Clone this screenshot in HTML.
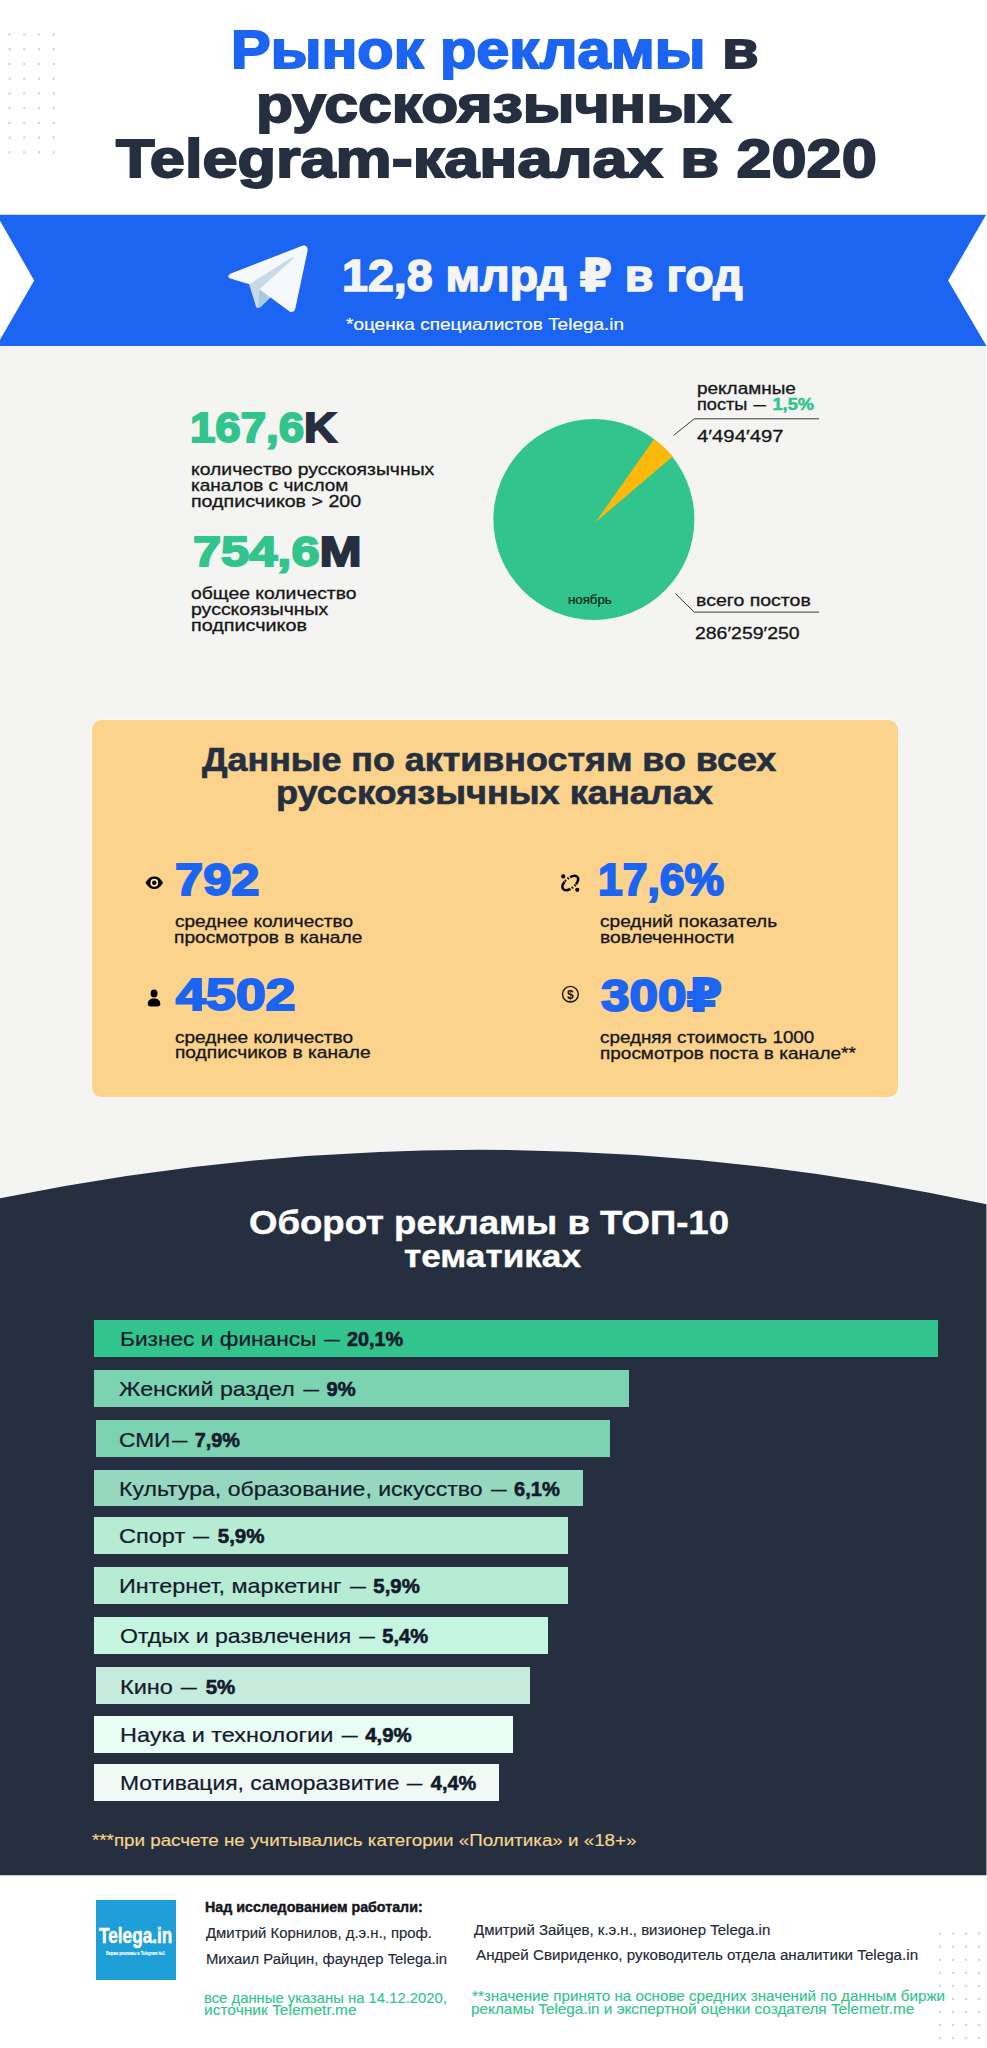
<!DOCTYPE html>
<html lang="ru"><head><meta charset="utf-8"><title>Рынок рекламы в русскоязычных Telegram-каналах в 2020</title>
<style>
html,body{margin:0;padding:0}
body{width:987px;height:2048px;position:relative;overflow:hidden;background:#fff;font-family:"Liberation Sans", "DejaVu Sans", sans-serif;}
.t{position:absolute;white-space:nowrap;line-height:1;transform-origin:0 0;display:block;}
.t b{font-weight:700;-webkit-text-stroke:0.03em currentColor}
.bl b{display:inline-block;transform:scaleX(.87);transform-origin:0 50%}
.d{display:inline-block;transform:scaleX(.68);margin:0 -.09em}
.abs{position:absolute}
.bar{position:absolute}
</style></head>
<body>
<div class="abs" style="left:0;top:346px;width:986px;height:870px;background:#f4f4f2"></div>
<svg class="abs" style="left:0;top:0" width="987" height="2048" viewBox="0 0 987 2048"><rect x="8.5" y="33.4" width="2.2" height="2.2" fill="#d2d3e0"/><rect x="23.2" y="33.4" width="2.2" height="2.2" fill="#d2d3e0"/><rect x="37.9" y="33.4" width="2.2" height="2.2" fill="#d2d3e0"/><rect x="52.6" y="33.4" width="2.2" height="2.2" fill="#d2d3e0"/><rect x="8.5" y="48.1" width="2.2" height="2.2" fill="#d2d3e0"/><rect x="23.2" y="48.1" width="2.2" height="2.2" fill="#d2d3e0"/><rect x="37.9" y="48.1" width="2.2" height="2.2" fill="#d2d3e0"/><rect x="52.6" y="48.1" width="2.2" height="2.2" fill="#d2d3e0"/><rect x="8.5" y="62.9" width="2.2" height="2.2" fill="#d2d3e0"/><rect x="23.2" y="62.9" width="2.2" height="2.2" fill="#d2d3e0"/><rect x="37.9" y="62.9" width="2.2" height="2.2" fill="#d2d3e0"/><rect x="52.6" y="62.9" width="2.2" height="2.2" fill="#d2d3e0"/><rect x="8.5" y="77.6" width="2.2" height="2.2" fill="#d2d3e0"/><rect x="23.2" y="77.6" width="2.2" height="2.2" fill="#d2d3e0"/><rect x="37.9" y="77.6" width="2.2" height="2.2" fill="#d2d3e0"/><rect x="52.6" y="77.6" width="2.2" height="2.2" fill="#d2d3e0"/><rect x="8.5" y="92.3" width="2.2" height="2.2" fill="#d2d3e0"/><rect x="23.2" y="92.3" width="2.2" height="2.2" fill="#d2d3e0"/><rect x="37.9" y="92.3" width="2.2" height="2.2" fill="#d2d3e0"/><rect x="52.6" y="92.3" width="2.2" height="2.2" fill="#d2d3e0"/><rect x="8.5" y="107.1" width="2.2" height="2.2" fill="#d2d3e0"/><rect x="23.2" y="107.1" width="2.2" height="2.2" fill="#d2d3e0"/><rect x="37.9" y="107.1" width="2.2" height="2.2" fill="#d2d3e0"/><rect x="52.6" y="107.1" width="2.2" height="2.2" fill="#d2d3e0"/><rect x="8.5" y="121.8" width="2.2" height="2.2" fill="#d2d3e0"/><rect x="23.2" y="121.8" width="2.2" height="2.2" fill="#d2d3e0"/><rect x="37.9" y="121.8" width="2.2" height="2.2" fill="#d2d3e0"/><rect x="52.6" y="121.8" width="2.2" height="2.2" fill="#d2d3e0"/><rect x="8.5" y="136.5" width="2.2" height="2.2" fill="#d2d3e0"/><rect x="23.2" y="136.5" width="2.2" height="2.2" fill="#d2d3e0"/><rect x="37.9" y="136.5" width="2.2" height="2.2" fill="#d2d3e0"/><rect x="52.6" y="136.5" width="2.2" height="2.2" fill="#d2d3e0"/><rect x="8.5" y="151.2" width="2.2" height="2.2" fill="#d2d3e0"/><rect x="23.2" y="151.2" width="2.2" height="2.2" fill="#d2d3e0"/><rect x="37.9" y="151.2" width="2.2" height="2.2" fill="#d2d3e0"/><rect x="52.6" y="151.2" width="2.2" height="2.2" fill="#d2d3e0"/><rect x="939.0" y="1932.6" width="2.2" height="2.2" fill="#d6d6e3"/><rect x="952.0" y="1932.6" width="2.2" height="2.2" fill="#d6d6e3"/><rect x="965.0" y="1932.6" width="2.2" height="2.2" fill="#d6d6e3"/><rect x="978.0" y="1932.6" width="2.2" height="2.2" fill="#d6d6e3"/><rect x="939.0" y="1945.6" width="2.2" height="2.2" fill="#d6d6e3"/><rect x="952.0" y="1945.6" width="2.2" height="2.2" fill="#d6d6e3"/><rect x="965.0" y="1945.6" width="2.2" height="2.2" fill="#d6d6e3"/><rect x="978.0" y="1945.6" width="2.2" height="2.2" fill="#d6d6e3"/><rect x="939.0" y="1958.7" width="2.2" height="2.2" fill="#d6d6e3"/><rect x="952.0" y="1958.7" width="2.2" height="2.2" fill="#d6d6e3"/><rect x="965.0" y="1958.7" width="2.2" height="2.2" fill="#d6d6e3"/><rect x="978.0" y="1958.7" width="2.2" height="2.2" fill="#d6d6e3"/><rect x="939.0" y="1971.8" width="2.2" height="2.2" fill="#d6d6e3"/><rect x="952.0" y="1971.8" width="2.2" height="2.2" fill="#d6d6e3"/><rect x="965.0" y="1971.8" width="2.2" height="2.2" fill="#d6d6e3"/><rect x="978.0" y="1971.8" width="2.2" height="2.2" fill="#d6d6e3"/><rect x="939.0" y="1984.8" width="2.2" height="2.2" fill="#d6d6e3"/><rect x="952.0" y="1984.8" width="2.2" height="2.2" fill="#d6d6e3"/><rect x="965.0" y="1984.8" width="2.2" height="2.2" fill="#d6d6e3"/><rect x="978.0" y="1984.8" width="2.2" height="2.2" fill="#d6d6e3"/><rect x="939.0" y="1997.8" width="2.2" height="2.2" fill="#d6d6e3"/><rect x="952.0" y="1997.8" width="2.2" height="2.2" fill="#d6d6e3"/><rect x="965.0" y="1997.8" width="2.2" height="2.2" fill="#d6d6e3"/><rect x="978.0" y="1997.8" width="2.2" height="2.2" fill="#d6d6e3"/><rect x="939.0" y="2010.9" width="2.2" height="2.2" fill="#d6d6e3"/><rect x="952.0" y="2010.9" width="2.2" height="2.2" fill="#d6d6e3"/><rect x="965.0" y="2010.9" width="2.2" height="2.2" fill="#d6d6e3"/><rect x="978.0" y="2010.9" width="2.2" height="2.2" fill="#d6d6e3"/><rect x="939.0" y="2023.9" width="2.2" height="2.2" fill="#d6d6e3"/><rect x="952.0" y="2023.9" width="2.2" height="2.2" fill="#d6d6e3"/><rect x="965.0" y="2023.9" width="2.2" height="2.2" fill="#d6d6e3"/><rect x="978.0" y="2023.9" width="2.2" height="2.2" fill="#d6d6e3"/><rect x="939.0" y="2037.0" width="2.2" height="2.2" fill="#d6d6e3"/><rect x="952.0" y="2037.0" width="2.2" height="2.2" fill="#d6d6e3"/><rect x="965.0" y="2037.0" width="2.2" height="2.2" fill="#d6d6e3"/><rect x="978.0" y="2037.0" width="2.2" height="2.2" fill="#d6d6e3"/><polygon points="-3.5,214.7 986.1,214.7 948.1,280.5 986.5,345.9 -3.5,345.9 34.2,280.5" fill="#1c64f2"/><g transform="translate(198.6,201.5) scale(0.608)"><path fill="#c8daea" d="M98 175c-3.8876 0-3.227-1.4679-4.5678-5.1695L82 132.2059 170 80"/><path fill="#a9c9dd" d="M98 175c3 0 4.3255-1.372 6-3l16-15.558-19.958-12.035"/><path fill="#f6f9fc" d="M100.04 144.41l48.36 35.729c5.5185 3.0449 9.5014 1.4684 10.876-5.1235l19.685-92.763c2.0154-8.0802-3.0801-11.745-8.3594-9.3482l-115.59 44.571c-7.8901 3.1647-7.8441 7.5666-1.4382 9.528l29.663 9.2583 68.673-43.325c3.2419-1.9659 6.2173-0.90899 3.7752 1.2584"/></g><ellipse cx="593.9" cy="519.5" rx="100.5" ry="100.5" fill="#31c48d"/><path d="M595.5,522.3 L654.1,438.9 A100.5,100.5 0 0 1 672.8,456.4 Z" fill="#fdb90b"/><polyline points="673.6,435.4 694.2,418.8 819,418.8" fill="none" stroke="#3a3a3a" stroke-width="1"/><polyline points="675.6,593.8 694.2,612.1 819,612.1" fill="none" stroke="#3a3a3a" stroke-width="1"/><path d="M0,1198.3 Q494,1098.2 986.45,1204.3 L986.45,1875.2 L0,1875.2 Z" fill="#252f3f"/></svg>
<div class="abs" style="left:92.1px;top:719.9px;width:805.8px;height:377.6px;border-radius:9.5px;background:#fbd38d;box-shadow:0 0 3px rgba(255,255,255,.9)"></div>
<div class="bar" style="left:93.8px;top:1320.2px;width:844.4px;height:37.1px;background:#31c48d"></div>
<div class="bar" style="left:93.8px;top:1370.2px;width:535.4px;height:37.0px;background:#7bd3b1"></div>
<div class="bar" style="left:95.8px;top:1420.4px;width:514.6px;height:36.5px;background:#7bd3b1"></div>
<div class="bar" style="left:93.8px;top:1470.1px;width:489.3px;height:36.0px;background:#96d8bf"></div>
<div class="bar" style="left:93.8px;top:1517.1px;width:474.2px;height:37.0px;background:#b5ecd3"></div>
<div class="bar" style="left:93.8px;top:1567.2px;width:474.2px;height:36.9px;background:#b5ecd3"></div>
<div class="bar" style="left:93.8px;top:1616.9px;width:454.5px;height:36.8px;background:#c5f5e0"></div>
<div class="bar" style="left:95.8px;top:1666.9px;width:434.4px;height:36.7px;background:#c5ebdc"></div>
<div class="bar" style="left:93.8px;top:1716.2px;width:419.5px;height:36.8px;background:#e8fdf3"></div>
<div class="bar" style="left:93.8px;top:1764.4px;width:405.2px;height:36.9px;background:#f0f9f5"></div>
<div class="abs" style="left:96px;top:1900px;width:80px;height:80px;background:#1e9fd8"></div>
<svg class="abs" style="left:0;top:0" width="987" height="2048" viewBox="0 0 987 2048"><g transform="translate(154.3,882.8)"><path d="M-8.8,0 C-5.5,-5.4 -2.5,-6.2 0,-6.2 C2.5,-6.2 5.5,-5.4 8.8,0 C5.5,5.4 2.5,6.2 0,6.2 C-2.5,6.2 -5.5,5.4 -8.8,0 Z" fill="#000"/><circle r="3.1" fill="none" stroke="#fde9a0" stroke-width="1.7"/></g><g fill="#000"><ellipse cx="154.05" cy="993.5" rx="3.45" ry="4.1"/><path d="M147.8,1004.8 C147.8,1000.2 150,998.6 154.05,998.6 C158.1,998.6 160.3,1000.2 160.3,1004.8 C160.3,1006.2 158,1006.6 154.05,1006.6 C150.1,1006.6 147.8,1006.2 147.8,1004.8 Z"/></g><g transform="translate(570.3,883) rotate(-40)" fill="none" stroke="#000" stroke-width="2.5" stroke-linecap="butt"><path d="M3.6,-4.6 A9.4,5 0 0 1 3.6,4.6"/><path d="M-3.6,4.6 A9.4,5 0 0 1 -3.6,-4.6"/><path d="M-2.9,-4.9 L-1.4,-4.9 M0.6,-4.9 L2.1,-4.9 M-2.1,4.9 L-0.6,4.9 M1.4,4.9 L2.9,4.9" stroke-width="2.3"/></g><circle cx="563.2" cy="876.4" r="2.1" fill="#000"/><circle cx="577.3" cy="889.8" r="2.1" fill="#000"/><circle cx="570.4" cy="994.2" r="7.85" fill="none" stroke="#1a1208" stroke-width="1.4"/><text x="570.4" y="998.6" text-anchor="middle" font-family='"Liberation Sans", "DejaVu Sans", sans-serif' font-size="12" font-weight="700" fill="#1a1208">$</text></svg>
<span class="t" style="left:230.9px;top:23.20px;font-size:53.92px;font-weight:700;color:#252f3f;-webkit-text-stroke:0.035em currentColor;transform:scaleX(1.1030)"><span style="color:#1c64f2">Рынок рекламы</span> в</span>
<span class="t" style="left:256.1px;top:79.14px;font-size:51.83px;font-weight:700;color:#252f3f;-webkit-text-stroke:0.035em currentColor;transform:scaleX(1.1680)">русскоязычных</span>
<span class="t" style="left:115.9px;top:130.57px;font-size:54.06px;font-weight:700;color:#252f3f;-webkit-text-stroke:0.035em currentColor;transform:scaleX(1.1667)">Telegram-каналах в 2020</span>
<span class="t" style="left:342.1px;top:253.97px;font-size:43.77px;font-weight:700;color:#f4f4f2;-webkit-text-stroke:0.035em currentColor;transform:scaleX(1.0643)">12,8 млрд ₽ в год</span>
<span class="t" style="left:346.1px;top:315.93px;font-size:16.5px;font-weight:400;color:#ffffff;-webkit-text-stroke:0.01em currentColor;transform:scaleX(1.1505)">*оценка специалистов Telega.in</span>
<span class="t" style="left:190.2px;top:405.83px;font-size:42.95px;font-weight:700;color:#252f3f;-webkit-text-stroke:0.045em currentColor;transform:scaleX(1.0619)"><span style="color:#31c48d">167,6</span>K</span>
<span class="t" style="left:190.9px;top:461.00px;font-size:17px;font-weight:400;color:#161616;-webkit-text-stroke:0.018em currentColor;transform:scaleX(1.1388)">количество русскоязычных</span>
<span class="t" style="left:190.9px;top:477.40px;font-size:17px;font-weight:400;color:#161616;-webkit-text-stroke:0.018em currentColor;transform:scaleX(1.1178)">каналов с числом</span>
<span class="t" style="left:190.8px;top:492.80px;font-size:17px;font-weight:400;color:#161616;-webkit-text-stroke:0.018em currentColor;transform:scaleX(1.1541)">подписчиков &gt; 200</span>
<span class="t" style="left:192.8px;top:530.85px;font-size:42.41px;font-weight:700;color:#252f3f;-webkit-text-stroke:0.045em currentColor;transform:scaleX(1.1921)"><span style="color:#31c48d">754,6</span>M</span>
<span class="t" style="left:191.2px;top:584.50px;font-size:17px;font-weight:400;color:#161616;-webkit-text-stroke:0.018em currentColor;transform:scaleX(1.1363)">общее количество</span>
<span class="t" style="left:190.9px;top:601.00px;font-size:17px;font-weight:400;color:#161616;-webkit-text-stroke:0.018em currentColor;transform:scaleX(1.1461)">русскоязычных</span>
<span class="t" style="left:190.8px;top:617.30px;font-size:17px;font-weight:400;color:#161616;-webkit-text-stroke:0.018em currentColor;transform:scaleX(1.1633)">подписчиков</span>
<span class="t" style="left:696.8px;top:379.60px;font-size:17px;font-weight:400;color:#161616;-webkit-text-stroke:0.018em currentColor;transform:scaleX(1.1149)">рекламные</span>
<span class="t" style="left:696.8px;top:395.60px;font-size:17px;font-weight:400;color:#161616;-webkit-text-stroke:0.018em currentColor;transform:scaleX(1.0694)">посты <span class="d">—</span> <b style="color:#31c48d">1,5%</b></span>
<span class="t" style="left:697.1px;top:428.30px;font-size:17px;font-weight:400;color:#161616;-webkit-text-stroke:0.018em currentColor;transform:scaleX(1.1930)">4′494′497</span>
<span class="t" style="left:696.1px;top:592.40px;font-size:17px;font-weight:400;color:#161616;-webkit-text-stroke:0.018em currentColor;transform:scaleX(1.1471)">всего постов</span>
<span class="t" style="left:695.0px;top:625.20px;font-size:17px;font-weight:400;color:#161616;-webkit-text-stroke:0.018em currentColor;transform:scaleX(1.1435)">286′259′250</span>
<span class="t" style="left:567.9px;top:593.50px;font-size:12.2px;font-weight:400;color:#07281b;-webkit-text-stroke:0.02em currentColor;transform:scaleX(1.0872)">ноябрь</span>
<span class="t" style="left:202.2px;top:743.23px;font-size:33.5px;font-weight:700;color:#252f3f;-webkit-text-stroke:0.02em currentColor;transform:scaleX(1.0703)">Данные по активностям во всех</span>
<span class="t" style="left:276.1px;top:775.80px;font-size:33.5px;font-weight:700;color:#252f3f;-webkit-text-stroke:0.02em currentColor;transform:scaleX(1.0781)">русскоязычных каналах</span>
<span class="t" style="left:174.9px;top:858.80px;font-size:43.54px;font-weight:700;color:#1c64f2;-webkit-text-stroke:0.045em currentColor;transform:scaleX(1.1620)">792</span>
<span class="t" style="left:175.0px;top:913.00px;font-size:17px;font-weight:400;color:#161616;-webkit-text-stroke:0.018em currentColor;transform:scaleX(1.1201)">среднее количество</span>
<span class="t" style="left:174.0px;top:929.30px;font-size:17px;font-weight:400;color:#161616;-webkit-text-stroke:0.018em currentColor;transform:scaleX(1.1274)">просмотров в канале</span>
<span class="t" style="left:176.1px;top:973.21px;font-size:43.94px;font-weight:700;color:#1c64f2;-webkit-text-stroke:0.045em currentColor;transform:scaleX(1.2257)">4502</span>
<span class="t" style="left:175.0px;top:1028.50px;font-size:17px;font-weight:400;color:#161616;-webkit-text-stroke:0.018em currentColor;transform:scaleX(1.1201)">среднее количество</span>
<span class="t" style="left:174.6px;top:1044.20px;font-size:17px;font-weight:400;color:#161616;-webkit-text-stroke:0.018em currentColor;transform:scaleX(1.1262)">подписчиков в канале</span>
<span class="t" style="left:598.2px;top:859.28px;font-size:43.54px;font-weight:700;color:#1c64f2;-webkit-text-stroke:0.045em currentColor;transform:scaleX(1.0208)">17,6%</span>
<span class="t" style="left:600.2px;top:913.00px;font-size:17px;font-weight:400;color:#161616;-webkit-text-stroke:0.018em currentColor;transform:scaleX(1.1215)">средний показатель</span>
<span class="t" style="left:599.8px;top:929.20px;font-size:17px;font-weight:400;color:#161616;-webkit-text-stroke:0.018em currentColor;transform:scaleX(1.1371)">вовлеченности</span>
<span class="t" style="left:601.3px;top:974.95px;font-size:43.54px;font-weight:700;color:#1c64f2;-webkit-text-stroke:0.045em currentColor;transform:scaleX(1.1765)">300₽</span>
<span class="t" style="left:600.1px;top:1028.80px;font-size:17px;font-weight:400;color:#161616;-webkit-text-stroke:0.018em currentColor;transform:scaleX(1.1085)">средняя стоимость 1000</span>
<span class="t" style="left:599.7px;top:1044.50px;font-size:17px;font-weight:400;color:#161616;-webkit-text-stroke:0.018em currentColor;transform:scaleX(1.1162)">просмотров поста в канале**</span>
<span class="t" style="left:249.0px;top:1206.05px;font-size:33.33px;font-weight:700;color:#ffffff;-webkit-text-stroke:0.012em currentColor;transform:scaleX(1.0966)">Оборот рекламы в ТОП-10</span>
<span class="t" style="left:403.8px;top:1240.79px;font-size:31.48px;font-weight:700;color:#ffffff;-webkit-text-stroke:0.012em currentColor;transform:scaleX(1.1175)">тематиках</span>
<span class="t" style="left:92.0px;top:1832.60px;font-size:16.6px;font-weight:400;color:#f7d48f;-webkit-text-stroke:0.01em currentColor;transform:scaleX(1.1315)">***при расчете не учитывались категории «Политика» и «18+»</span>
<span class="t" style="left:204.9px;top:1901.13px;font-size:13.8px;font-weight:700;color:#14161c;-webkit-text-stroke:0.03em currentColor;transform:scaleX(1.0325)">Над исследованием работали:</span>
<span class="t" style="left:206.1px;top:1926.60px;font-size:13.8px;font-weight:400;color:#222836;-webkit-text-stroke:0.01em currentColor;transform:scaleX(1.0798)">Дмитрий Корнилов, д.э.н., проф.</span>
<span class="t" style="left:205.6px;top:1953.13px;font-size:13.8px;font-weight:400;color:#222836;-webkit-text-stroke:0.01em currentColor;transform:scaleX(1.0759)">Михаил Райцин, фаундер Telega.in</span>
<span class="t" style="left:204.1px;top:1991.00px;font-size:14.4px;font-weight:400;color:#31c48d;-webkit-text-stroke:0.01em currentColor;transform:scaleX(1.0301)">все данные указаны на 14.12.2020,</span>
<span class="t" style="left:204.0px;top:2002.73px;font-size:14.4px;font-weight:400;color:#31c48d;-webkit-text-stroke:0.01em currentColor;transform:scaleX(1.0786)">источник Telemetr.me</span>
<span class="t" style="left:473.6px;top:1923.60px;font-size:13.8px;font-weight:400;color:#222836;-webkit-text-stroke:0.01em currentColor;transform:scaleX(1.0870)">Дмитрий Зайцев, к.э.н., визионер Telega.in</span>
<span class="t" style="left:475.5px;top:1948.80px;font-size:13.8px;font-weight:400;color:#222836;-webkit-text-stroke:0.01em currentColor;transform:scaleX(1.1007)">Андрей Свириденко, руководитель отдела аналитики Telega.in</span>
<span class="t" style="left:472.0px;top:1989.00px;font-size:14.4px;font-weight:400;color:#31c48d;-webkit-text-stroke:0.01em currentColor;transform:scaleX(1.0560)">**значение принято на основе средних значений по данным биржи</span>
<span class="t" style="left:471.3px;top:2002.30px;font-size:14.4px;font-weight:400;color:#31c48d;-webkit-text-stroke:0.01em currentColor;transform:scaleX(1.0652)">рекламы Telega.in и экспертной оценки создателя Telemetr.me</span>
<span class="t" style="left:98.7px;top:1924.80px;font-size:22.6px;font-weight:700;color:#ffffff;-webkit-text-stroke:0.02em currentColor;transform:scaleX(0.7611)">Telega.in</span>
<span class="t" style="left:106.2px;top:1952.00px;font-size:4.6px;font-weight:700;color:#ffffff;-webkit-text-stroke:0.03em currentColor;transform:scaleX(0.8292)">Биржа рекламы в Telegram №1</span>
<span class="t bl" style="left:120.1px;top:1330.30px;font-size:19.8px;font-weight:400;color:#131a2c;-webkit-text-stroke:0.01em currentColor;transform:scaleX(1.1469)">Бизнес и финансы <span class="d">—</span> <b>20,1%</b></span>
<span class="t bl" style="left:119.2px;top:1379.73px;font-size:19.8px;font-weight:400;color:#131a2c;-webkit-text-stroke:0.01em currentColor;transform:scaleX(1.1722)">Женский раздел <span class="d">—</span> <b>9%</b></span>
<span class="t bl" style="left:119.4px;top:1431.37px;font-size:19.8px;font-weight:400;color:#131a2c;-webkit-text-stroke:0.01em currentColor;transform:scaleX(1.1490)">СМИ<span class="d">—</span> <b>7,9%</b></span>
<span class="t bl" style="left:119.2px;top:1479.73px;font-size:19.8px;font-weight:400;color:#131a2c;-webkit-text-stroke:0.01em currentColor;transform:scaleX(1.1652)">Культура, образование, искусство <span class="d">—</span> <b>6,1%</b></span>
<span class="t bl" style="left:119.3px;top:1526.77px;font-size:19.8px;font-weight:400;color:#131a2c;-webkit-text-stroke:0.01em currentColor;transform:scaleX(1.1901)">Спорт <span class="d">—</span> <b>5,9%</b></span>
<span class="t bl" style="left:118.8px;top:1576.77px;font-size:19.8px;font-weight:400;color:#131a2c;-webkit-text-stroke:0.01em currentColor;transform:scaleX(1.1830)">Интернет, маркетинг <span class="d">—</span> <b>5,9%</b></span>
<span class="t bl" style="left:119.9px;top:1626.57px;font-size:19.8px;font-weight:400;color:#131a2c;-webkit-text-stroke:0.01em currentColor;transform:scaleX(1.1658)">Отдых и развлечения <span class="d">—</span> <b>5,4%</b></span>
<span class="t bl" style="left:119.5px;top:1678.37px;font-size:19.8px;font-weight:400;color:#131a2c;-webkit-text-stroke:0.01em currentColor;transform:scaleX(1.1895)">Кино <span class="d">—</span> <b>5%</b></span>
<span class="t bl" style="left:119.5px;top:1726.17px;font-size:19.8px;font-weight:400;color:#131a2c;-webkit-text-stroke:0.01em currentColor;transform:scaleX(1.1849)">Наука и технологии <span class="d">—</span> <b>4,9%</b></span>
<span class="t bl" style="left:120.2px;top:1774.30px;font-size:19.8px;font-weight:400;color:#131a2c;-webkit-text-stroke:0.01em currentColor;transform:scaleX(1.1556)">Мотивация, саморазвитие <span class="d">—</span> <b>4,4%</b></span>
</body></html>
